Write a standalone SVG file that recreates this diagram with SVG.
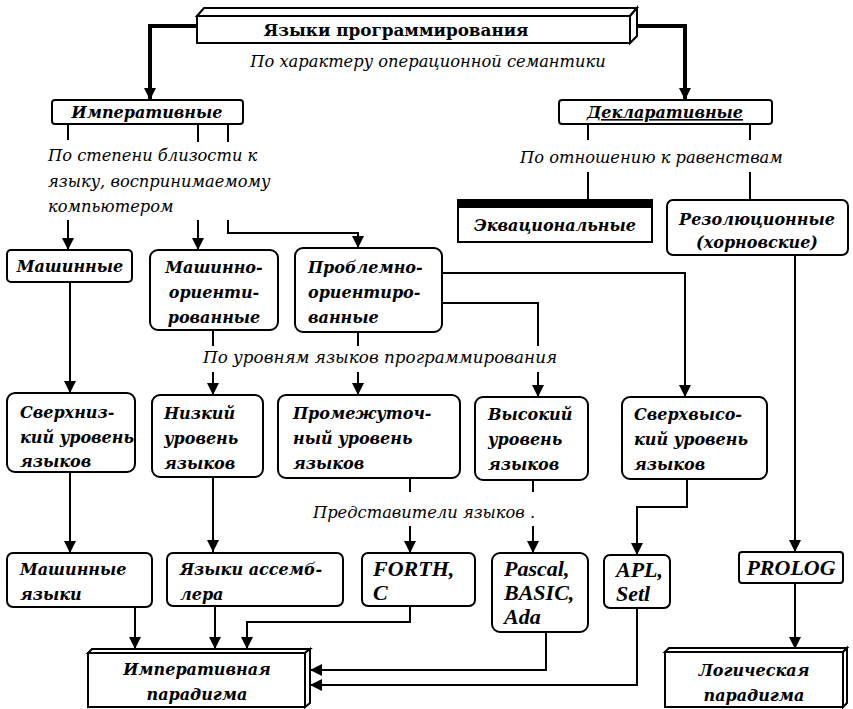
<svg xmlns="http://www.w3.org/2000/svg" width="853" height="709" viewBox="0 0 853 709">
<style>
.bx{fill:#fff;stroke:#000;stroke-width:2}
.t{font-family:"DejaVu Serif","Liberation Serif",serif;font-weight:bold;font-style:italic;font-size:16px;fill:#000}
.l{font-family:"Liberation Serif","DejaVu Serif",serif;font-weight:bold;font-style:italic;font-size:22px;fill:#000}
.m{text-anchor:middle}
.a{font-family:"DejaVu Serif","Liberation Serif",serif;font-style:italic;font-size:16.3px;fill:#000}
.c{fill:none;stroke:#000;stroke-width:2}
.k{fill:none;stroke:#000;stroke-width:4}
</style>
<defs>
<marker id="ar" markerWidth="12" markerHeight="12" viewBox="0 0 12 12" refX="12" refY="6" orient="auto" markerUnits="userSpaceOnUse">
<path d="M0,0 L12,6 L0,12 Z" fill="#000"/>
</marker>
</defs>
<rect width="853" height="709" fill="#fff"/>
<g id="connectors">
<path class="k" d="M197,26 H150 V100" marker-end="url(#ar)"/>
<path class="k" d="M637,26 H685 V100" marker-end="url(#ar)"/>
<path class="c" d="M68,124 V140 M198,124 V142 M228,124 V142"/>
<path class="c" d="M68,220 V250" marker-end="url(#ar)"/>
<path class="c" d="M198,220 V250" marker-end="url(#ar)"/>
<path class="c" d="M228,220 V233 H358 V248" marker-end="url(#ar)"/>
<path class="c" d="M588,124 V140 M750,124 V140 M588,172 V200 M750,172 V200"/>
<path class="c" d="M70,282 V393" marker-end="url(#ar)"/>
<path class="c" d="M213,330 V346 M358,332 V346 M442,303 H538 V346"/>
<path class="c" d="M213,372 V395" marker-end="url(#ar)"/>
<path class="c" d="M358,372 V395" marker-end="url(#ar)"/>
<path class="c" d="M538,372 V397" marker-end="url(#ar)"/>
<path class="c" d="M442,273 H685 V397" marker-end="url(#ar)"/>
<path class="c" d="M795,255 V552" marker-end="url(#ar)"/>
<path class="c" d="M70,472 V553" marker-end="url(#ar)"/>
<path class="c" d="M213,477 V552" marker-end="url(#ar)"/>
<path class="c" d="M410,478 V492 M533,480 V492"/>
<path class="c" d="M410,526 V553" marker-end="url(#ar)"/>
<path class="c" d="M533,526 V553" marker-end="url(#ar)"/>
<path class="c" d="M687,479 V507 H637 V555" marker-end="url(#ar)"/>
<path class="c" d="M135,607 V649" marker-end="url(#ar)"/>
<path class="c" d="M215,606 V649" marker-end="url(#ar)"/>
<path class="c" d="M410,606 V622 H247 V649" marker-end="url(#ar)"/>
<path class="c" d="M546,632 V670 H310" marker-end="url(#ar)"/>
<path class="c" d="M637,608 V685 H310" marker-end="url(#ar)"/>
<path class="c" d="M795,583 V649" marker-end="url(#ar)"/>
</g>
<g id="labels">
<text class="a m" x="428" y="67">По характеру операционной семантики</text>
<text class="a" x="48" y="161">По степени близости к</text>
<text class="a" x="48" y="187">языку, воспринимаемому</text>
<text class="a" x="48" y="212">компьютером</text>
<text class="a" x="520" y="163">По отношению к равенствам</text>
<text class="a" x="203" y="363" style="font-size:16.8px">По уровням языков программирования</text>
<text class="a" x="313" y="518">Представители языков  .</text>
</g>
<g id="n-root">
<polygon class="bx" points="197,16 204,8 637,8 630,16"/>
<polygon class="bx" points="630,16 637,8 637,36 630,43"/>
<rect class="bx" x="197" y="16" width="433" height="27"/>
<text x="396" y="36" text-anchor="middle" style="font-family:'DejaVu Serif','Liberation Serif',serif;font-weight:bold;font-size:16.8px">Языки программирования</text>
</g>
<g id="n-imper">
<rect class="bx" x="52" y="100" width="191" height="24" rx="3"/>
<text class="t m" x="147" y="118">Императивные</text>
</g>
<g id="n-decl">
<rect class="bx" x="559" y="100" width="213" height="24" rx="3"/>
<text class="t m" x="665" y="118" text-decoration="underline">Декларативные</text>
</g>
<g id="n-equ">
<rect class="bx" x="458" y="200" width="194" height="42"/>
<rect x="458" y="199" width="194" height="8" fill="#000"/>
<line x1="458" y1="207" x2="652" y2="207" stroke="#000" stroke-width="2"/>
<text class="t m" x="555" y="231">Эквациональные</text>
</g>
<g id="n-res">
<rect class="bx" x="667" y="200" width="181" height="55" rx="6"/>
<text class="t m" x="757" y="225">Резолюционные</text>
<text class="t m" x="757" y="248">(хорновские)</text>
</g>
<g id="n-mash">
<rect class="bx" x="7" y="250" width="125" height="32" rx="4"/>
<text class="t m" x="70" y="272">Машинные</text>
</g>
<g id="n-mashor">
<rect class="bx" x="150" y="250" width="128" height="80" rx="8"/>
<text class="t m" x="214" y="273">Машинно-</text>
<text class="t m" x="214" y="298">ориенти-</text>
<text class="t m" x="214" y="323">рованные</text>
</g>
<g id="n-probl">
<rect class="bx" x="295" y="248" width="147" height="84" rx="8"/>
<text class="t" x="308" y="273">Проблемно-</text>
<text class="t" x="308" y="298">ориентиро-</text>
<text class="t" x="308" y="323">ванные</text>
</g>
<g id="n-sverhniz">
<rect class="bx" x="7" y="393" width="128" height="79" rx="8"/>
<text class="t" x="20" y="418">Сверхниз-</text>
<text class="t" x="20" y="443">кий уровень</text>
<text class="t" x="20" y="467">языков</text>
</g>
<g id="n-nizk">
<rect class="bx" x="152" y="395" width="111" height="82" rx="8"/>
<text class="t" x="164" y="419">Низкий</text>
<text class="t" x="164" y="444">уровень</text>
<text class="t" x="164" y="469">языков</text>
</g>
<g id="n-prom">
<rect class="bx" x="278" y="395" width="182" height="83" rx="8"/>
<text class="t" x="293" y="419">Промежуточ-</text>
<text class="t" x="293" y="444">ный уровень</text>
<text class="t" x="293" y="469">языков</text>
</g>
<g id="n-vys">
<rect class="bx" x="475" y="397" width="113" height="83" rx="8"/>
<text class="t" x="488" y="420">Высокий</text>
<text class="t" x="488" y="445">уровень</text>
<text class="t" x="488" y="470">языков</text>
</g>
<g id="n-sverhvys">
<rect class="bx" x="622" y="397" width="145" height="82" rx="8"/>
<text class="t" x="634" y="420">Сверхвысо-</text>
<text class="t" x="634" y="445">кий уровень</text>
<text class="t" x="634" y="470">языков</text>
</g>
<g id="n-mashyaz">
<rect class="bx" x="7" y="553" width="145" height="54" rx="6"/>
<text class="t" x="20" y="575">Машинные</text>
<text class="t" x="20" y="600">языки</text>
</g>
<g id="n-asm">
<rect class="bx" x="167" y="553" width="176" height="53" rx="6"/>
<text class="t" x="180" y="575">Языки ассемб-</text>
<text class="t" x="180" y="600">лера</text>
</g>
<g id="n-forth">
<rect class="bx" x="362" y="553" width="113" height="53" rx="6"/>
<text class="l" x="373" y="576">FORTH,</text>
<text class="l" x="373" y="600">C</text>
</g>
<g id="n-pascal">
<rect class="bx" x="492" y="553" width="96" height="79" rx="8"/>
<text class="l" x="504" y="576">Pascal,</text>
<text class="l" x="504" y="600">BASIC,</text>
<text class="l" x="504" y="624">Ada</text>
</g>
<g id="n-apl">
<rect class="bx" x="604" y="555" width="66" height="53" rx="6"/>
<text class="l" x="616" y="577">APL,</text>
<text class="l" x="616" y="601">Setl</text>
</g>
<g id="n-prolog">
<rect class="bx" x="739" y="552" width="104" height="31" rx="3"/>
<text class="l m" x="791" y="575">PROLOG</text>
</g>
<g id="n-imppar">
<polygon class="bx" points="88,653 92,649 310,649 305,653"/>
<polygon class="bx" points="305,653 310,649 310,703 305,707"/>
<rect class="bx" x="88" y="653" width="217" height="54"/>
<text class="t m" x="197" y="675">Императивная</text>
<text class="t m" x="197" y="700">парадигма</text>
</g>
<g id="n-logpar">
<polygon class="bx" points="665,652 669,648 847,648 843,652"/>
<polygon class="bx" points="843,652 847,648 847,703 843,707"/>
<rect class="bx" x="665" y="652" width="178" height="55"/>
<text class="t m" x="754" y="676">Логическая</text>
<text class="t m" x="754" y="701">парадигма</text>
</g>
</svg>
